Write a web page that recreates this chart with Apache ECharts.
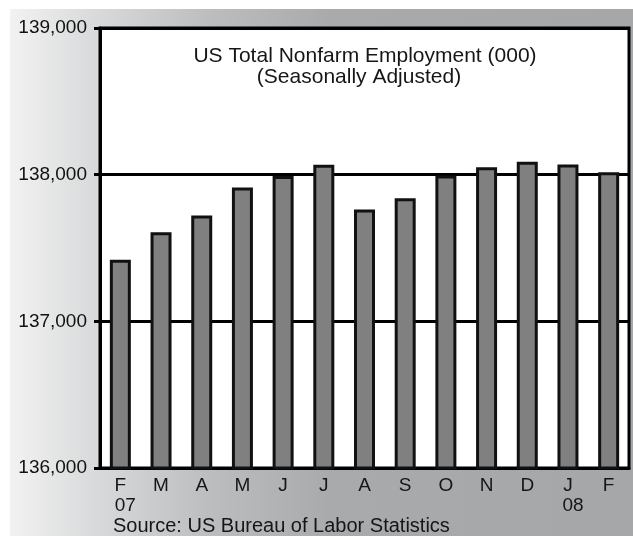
<!DOCTYPE html>
<html>
<head>
<meta charset="utf-8">
<script src="https://cdn.jsdelivr.net/npm/echarts@6/dist/echarts.min.js"></script>
<style>
  html, body { margin: 0; padding: 0; background: #fff; }
  #main {
    width: 633px;
    height: 536px;
    background: linear-gradient(to right, #f2f2f2 0px, #dadbdc 80px, #bcbdbf 200px, #a9aaac 320px, #a6a7a9 100%) no-repeat;
    background-position: 10px 9px;
    background-size: 623px 527px;
  }
</style>
</head>
<body>
<div id="main"></div>
<script>
  // months (Feb 07 - Feb 08)
  const months = ['F', 'M', 'A', 'M', 'J', 'J', 'A', 'S', 'O', 'N', 'D', 'J', 'F']
  const years = ['07', '', '', '', '', '', '', '', '', '', '', '08', '']
  // employment, thousands
  const employment = [137420, 137607, 137721, 137912, 137991, 138068, 137762, 137839, 137995, 138050, 138088, 138070, 138016]
  const yMin = 136000
  const yMax = 139000
  const yStep = 1000

  const font = 'Liberation Sans, Arial, Helvetica, sans-serif'
  const chart = echarts.init(document.getElementById('main'), null, { renderer: 'canvas' })

  const option = {
    animation: false,
    textStyle: { fontFamily: font },
    title: [{
      text: '{a|US Total Nonfarm Employment (000)}\n{b|(Seasonally Adjusted)}',
      left: 365,
      top: 46,
      padding: 0,
      textAlign: 'center',
      textStyle: {
        fontFamily: font,
        fontWeight: 'normal',
        rich: {
          a: { fontSize: 21, lineHeight: 21, color: '#161616', fontFamily: font },
          b: { fontSize: 21, lineHeight: 21, color: '#161616', fontFamily: font, padding: [0, 12, 0, 0] }
        }
      }
    }, {
      text: 'Source: US Bureau of Labor Statistics',
      left: 113,
      top: 516,
      padding: 0,
      textStyle: { fontFamily: font, fontWeight: 'normal', fontSize: 20, lineHeight: 20, color: '#161616' }
    }],
    grid: {
      left: 100,
      right: 4,
      top: 28,
      bottom: 68,
      show: true,
      backgroundColor: '#fff',
      borderColor: '#000',
      borderWidth: 3
    },
    xAxis: {
      type: 'category',
      data: months,
      axisLine: { lineStyle: { color: '#000', width: 3 } },
      axisTick: { show: false },
      axisLabel: {
        margin: 8,
        interval: 0,
        formatter: (v, i) => years[i] ? '{m|' + v + '}\n{y|' + years[i] + '}' : '{m|' + v + '}',
        rich: {
          m: { fontSize: 19, lineHeight: 20, color: '#161616', fontFamily: font },
          y: { fontSize: 19, lineHeight: 20, color: '#161616', fontFamily: font, padding: [0, 0, 0, 10] }
        }
      }
    },
    yAxis: {
      type: 'value',
      min: yMin,
      max: yMax,
      interval: yStep,
      axisLine: { show: true, lineStyle: { color: '#000', width: 3 } },
      axisTick: { show: true, length: 6, lineStyle: { color: '#000', width: 3 } },
      splitLine: { lineStyle: { color: '#000', width: 3 } },
      axisLabel: {
        margin: 13,
        fontSize: 19,
        color: '#111',
        fontFamily: font,
        formatter: v => v.toLocaleString('en-US')
      }
    },
    series: [{
      type: 'bar',
      data: employment,
      barWidth: 21,
      itemStyle: { color: '#808080', borderColor: '#111', borderWidth: 3 }
    }]
  }

  chart.setOption(option)
</script>
</body>
</html>
